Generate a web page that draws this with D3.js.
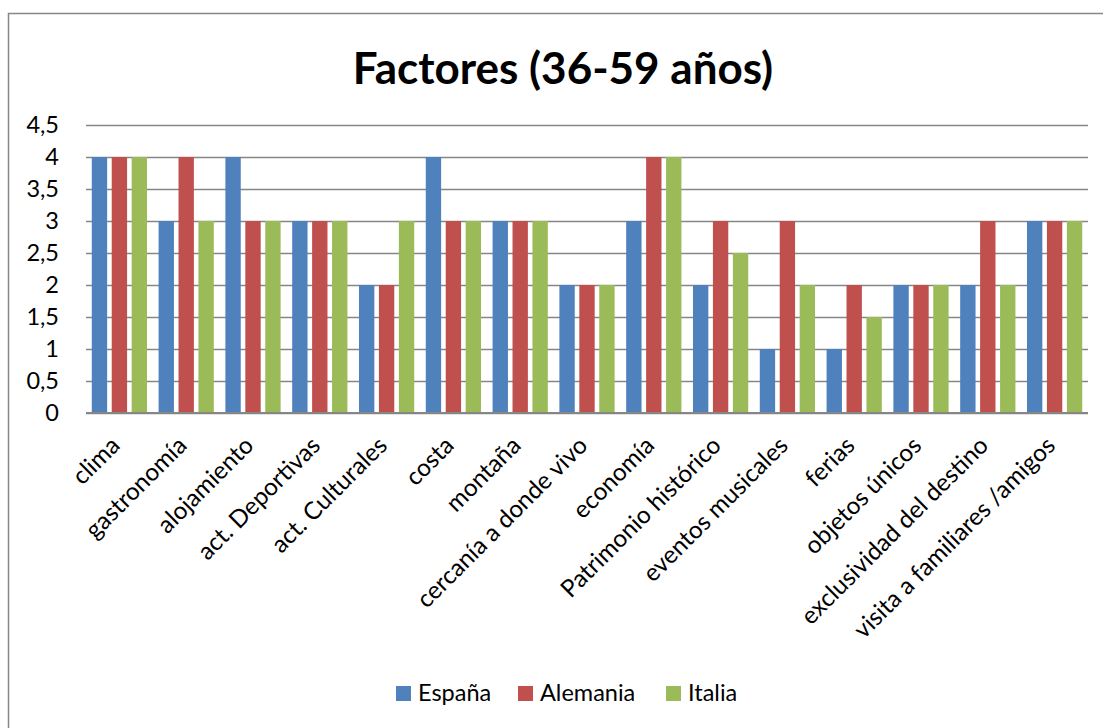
<!DOCTYPE html>
<html>
<head>
<meta charset="utf-8">
<script src="https://cdn.jsdelivr.net/npm/d3@7"></script>
<style>
    body { margin: 0; background: #fff; }
    text { font-family: Lato, "Open Sans", sans-serif; fill: #000; }
</style>
</head>
<body>
<div id="chart"></div>
<script>

// data
let categories = ["clima", "gastronomía", "alojamiento", "act. Deportivas", "act. Culturales",
    "costa", "montaña", "cercanía a donde vivo", "economía", "Patrimonio histórico",
    "eventos musicales", "ferias", "objetos únicos", "exclusividad del destino",
    "visita a familiares /amigos"];
let seriesNames = ["España", "Alemania", "Italia"];
let espana   = [4, 3, 4, 3, 2, 4, 3, 2, 3, 2, 1, 1, 2, 2, 3];
let alemania = [4, 4, 3, 3, 2, 3, 3, 2, 4, 3, 3, 2, 2, 3, 3];
let italia   = [4, 3, 3, 3, 3, 3, 3, 2, 4, 2.5, 2, 1.5, 2, 2, 3];
let yTicks = [0, 0.5, 1, 1.5, 2, 2.5, 3, 3.5, 4, 4.5];
let colors = ["#4F81BD", "#C0504D", "#9BBB59"];

let rows = categories.map(function(c, i){
    return { name: c, values: [espana[i], alemania[i], italia[i]] };
});

let W = 1103, H = 728;
let plot = { left: 86, right: 1088, top: 125, bottom: 413 };

let svg = d3.select("#chart").append("svg")
    .attr("width", W)
    .attr("height", H);

// outer frame
svg.append("rect")
    .attr("x", 8.5).attr("y", 13.5)
    .attr("width", W + 20).attr("height", H + 20)
    .attr("fill", "none")
    .attr("stroke", "#868686")
    .attr("stroke-width", 1.5);

// title
svg.append("text")
    .attr("x", 563)
    .attr("y", 84)
    .attr("text-anchor", "middle")
    .style("font-size", "44px")
    .style("font-weight", "bold")
    .text("Factores (36-59 años)");

let x = d3.scaleBand()
    .domain(categories)
    .range([plot.left, plot.right])
    .padding(0);

let x1 = d3.scaleBand()
    .domain(seriesNames)
    .range([0, x.bandwidth()])
    .paddingInner(0.23)
    .paddingOuter(0.29);

let y = d3.scaleLinear()
    .domain([0, 4.5])
    .range([plot.bottom, plot.top]);

// gridlines + y labels
let yAxis = d3.axisLeft(y)
    .tickValues(yTicks)
    .tickSize(-(plot.right - plot.left))
    .tickPadding(27)
    .tickFormat(d => String(d).replace(".", ","));

let gy = svg.append("g")
    .attr("class", "axis y-axis")
    .attr("transform", `translate(${plot.left},0)`)
    .call(yAxis);

gy.select(".domain").remove();
gy.selectAll(".tick line")
    .attr("stroke", "#868686")
    .attr("stroke-width", 1.5);
gy.selectAll(".tick text")
    .style("font-size", "23.5px")
    .style("font-family", "Lato, sans-serif")
    .attr("fill", "#000");

// bars
let groups = svg.selectAll(".group")
    .data(rows)
    .enter()
    .append("g")
    .attr("class", "group")
    .attr("transform", d => `translate(${x(d.name)},0)`);

groups.selectAll("rect")
    .data(d => d.values.map((v, i) => ({ key: seriesNames[i], value: v, i: i })))
    .enter()
    .append("rect")
    .attr("x", d => x1(d.key))
    .attr("width", x1.bandwidth())
    .attr("y", d => y(d.value))
    .attr("height", d => y(0) - y(d.value))
    .attr("fill", d => colors[d.i]);

// baseline
svg.append("line")
    .attr("x1", plot.left).attr("x2", plot.right)
    .attr("y1", y(0)).attr("y2", y(0))
    .attr("stroke", "#868686")
    .attr("stroke-width", 2);

// category labels
svg.selectAll(".cat-label")
    .data(categories)
    .enter()
    .append("text")
    .attr("class", "cat-label")
    .attr("text-anchor", "end")
    .style("font-size", "24.3px")
    .attr("transform", d => `translate(${x(d) + x.bandwidth() / 2 + 2},${plot.bottom + 34}) rotate(-45)`)
    .text(d => d);

// legend
let legendX = [396, 518, 666];
let legend = svg.append("g").attr("class", "legend");

legend.selectAll("rect")
    .data(seriesNames)
    .enter()
    .append("rect")
    .attr("x", (d, i) => legendX[i])
    .attr("y", 686)
    .attr("width", 15)
    .attr("height", 15)
    .attr("fill", (d, i) => colors[i]);

legend.selectAll("text")
    .data(seriesNames)
    .enter()
    .append("text")
    .attr("x", (d, i) => legendX[i] + 22)
    .attr("y", 701)
    .style("font-size", "23.5px")
    .text(d => d);

</script>
</body>
</html>
